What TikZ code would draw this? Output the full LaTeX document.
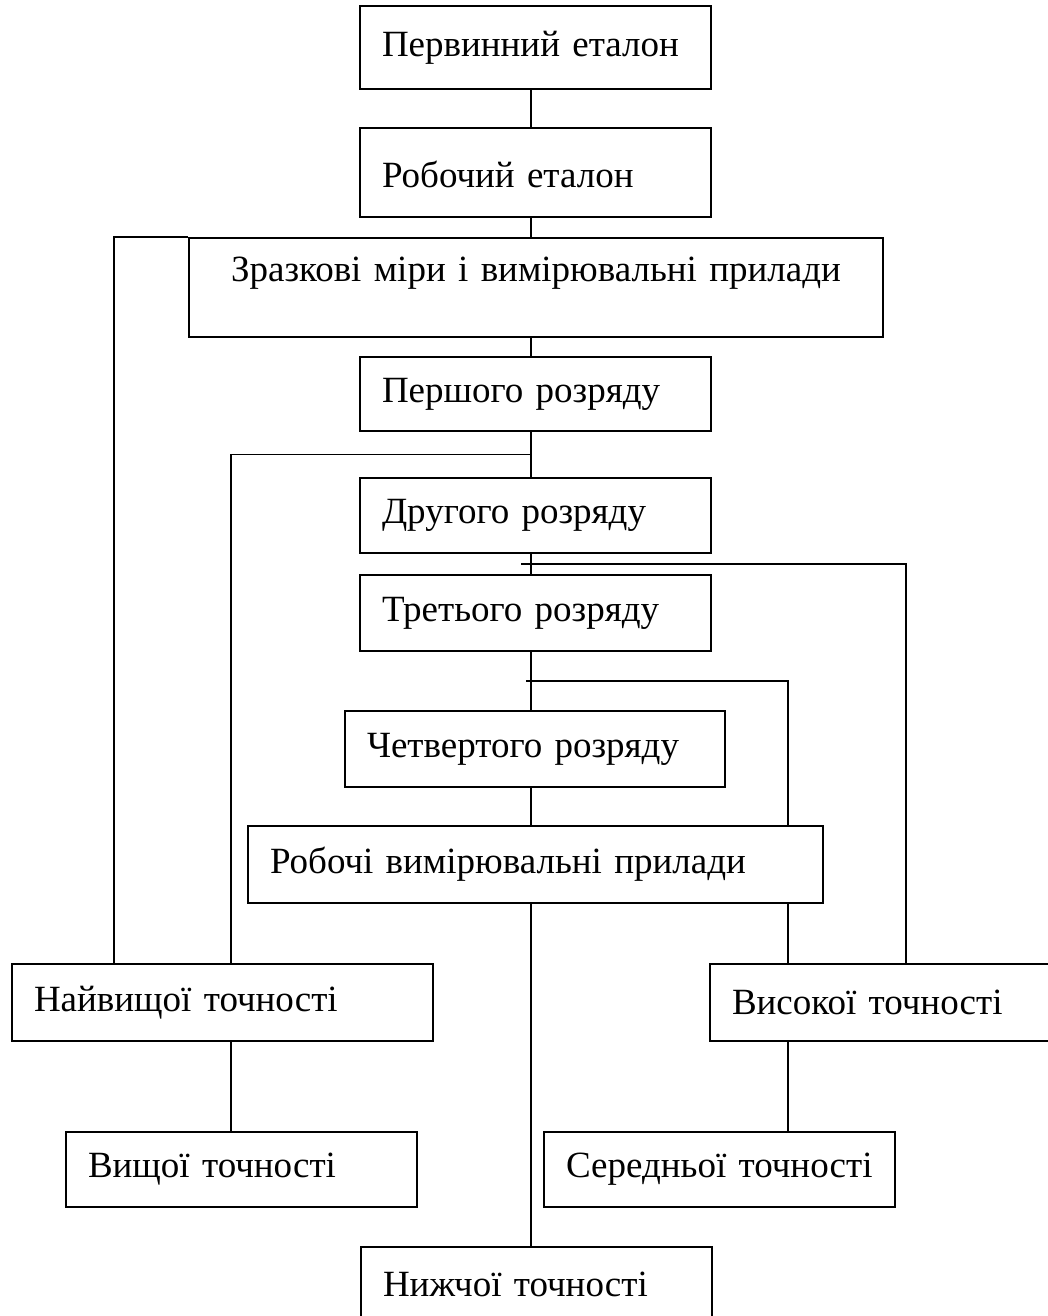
\documentclass[tikz,border=0pt]{standalone}
\usepackage{fontspec}
\setmainfont{Liberation Serif}
\usetikzlibrary{calc}

\begin{document}
\begin{tikzpicture}[x=.5pt,y=-.5pt,line width=.75pt,
  box/.style={draw,line width=1pt,anchor=north west,align=left,
    inner xsep=11pt,text width=153.5pt,minimum height=37.5pt,
    font=\fontsize{18.5}{22}\selectfont}]
  \useasboundingbox (0,0) rectangle (1048,1316);

  \node[box,minimum height=41.5pt] (pervyn) at (359,5) {Первинний еталон};
  \node[box,minimum height=44.5pt,text height=19pt,text depth=4pt] (robet) at (359,127) {Робочий еталон};
  \node[box,align=center,text width=325pt,minimum height=49.5pt,text depth=18pt]
    (zrazk) at (188,237) {Зразкові міри і вимірювальні прилади};
  \node[box,minimum height=37pt] (pershyi) at (359,356) {Першого розряду};
  \node[box] (druhyi) at (359,477) {Другого розряду};
  \node[box,minimum height=38pt] (tretii) at (359,574) {Третього розряду};
  \node[box,text width=168pt,minimum height=38pt] (chetv) at (344,710) {Четвертого розряду};
  \node[box,text width=265.5pt,minimum height=38.5pt] (robpr) at (247,825) {Робочі вимірювальні прилади};
  \node[box,text width=188.5pt,minimum height=38.5pt] (naivyshch) at (11,963) {Найвищої точності};
  \node[box,minimum height=38.5pt] (vysok) at (709,963) {Високої точності};
  \node[box] (vyshch) at (65,1131) {Вищої точності};
  \node[box] (seredn) at (543,1131) {Середньої точності};
  \node[box] (nyzhch) at (360,1246) {Нижчої точності};

  \coordinate (trunk) at (531,0);
  \coordinate (colA) at (114,0);
  \coordinate (colB) at (231,0);
  \coordinate (colC) at (788,0);
  \coordinate (colD) at (906,0);

  \draw (pervyn.south -| trunk) -- (robet.north -| trunk);
  \draw (robet.south -| trunk) -- (zrazk.north -| trunk);
  \draw (zrazk.south -| trunk) -- (pershyi.north -| trunk);
  \draw (pershyi.south -| trunk) -- (druhyi.north -| trunk);
  \draw (druhyi.south -| trunk) -- (tretii.north -| trunk);
  \draw (tretii.south -| trunk) -- (chetv.north -| trunk);
  \draw (chetv.south -| trunk) -- (robpr.north -| trunk);
  \draw (robpr.south -| trunk) -- (nyzhch.north -| trunk);

  \draw (zrazk.north west) -| (colA |- naivyshch.north);
  \draw ($(pershyi.south -| trunk)!.5!(druhyi.north -| trunk)$) -| (colB |- naivyshch.north);
  \draw ($(druhyi.south -| trunk)!.5!(tretii.north -| trunk)+(-10,0)$) -| (colD |- vysok.north);
  \draw ($(tretii.south -| trunk)!.5!(chetv.north -| trunk)+(-5,0)$) -| (colC |- robpr.north);
  \draw (colC |- robpr.south) -- (colC |- vysok.north);

  \draw (colB |- naivyshch.south) -- (colB |- vyshch.north);
  \draw (colC |- vysok.south) -- (colC |- seredn.north);
\end{tikzpicture}
\end{document}
